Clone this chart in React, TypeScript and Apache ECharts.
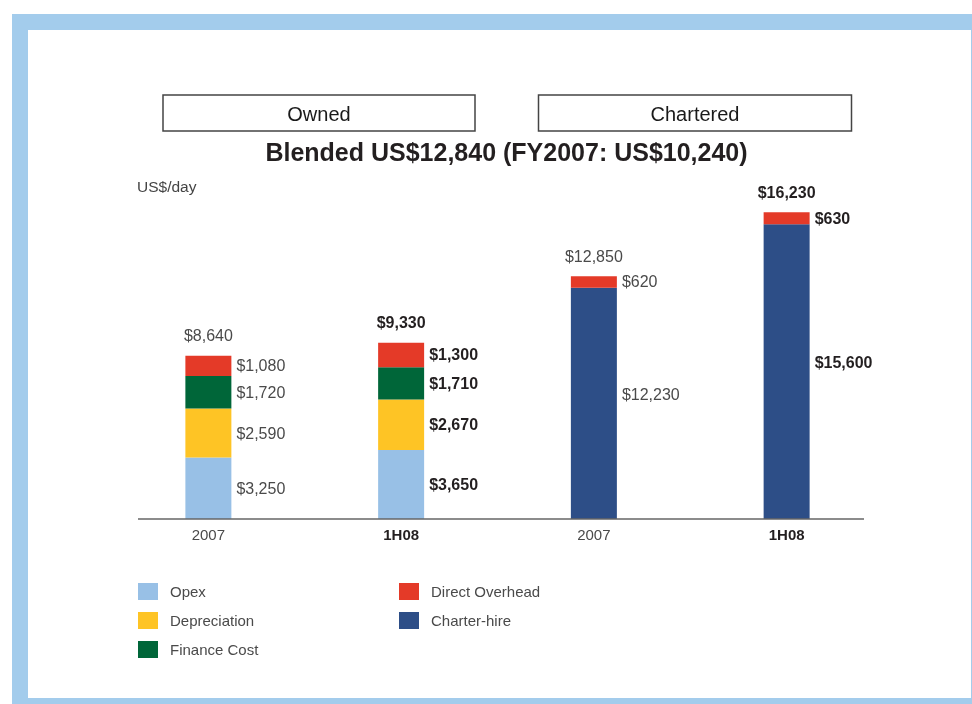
import React, { useEffect, useRef } from "react";
import * as echarts from "echarts";

const categories = ["2007", "1H08", "2007", "1H08"];
const boldCategory = [false, true, false, true];
const opex = [3250, 3650, null, null];
const depreciation = [2590, 2670, null, null];
const financeCost = [1720, 1710, null, null];
const charterHire = [null, null, 12230, 15600];
const directOverhead = [1080, 1300, 620, 630];
const groupTitles = ["Owned", "Chartered"];
const mainTitle = "Blended US$12,840 (FY2007: US$10,240)";
const unitLabel = "US$/day";

const COLORS = {
  opex: "#98C0E6",
  dep: "#FEC425",
  fin: "#006639",
  over: "#E43A28",
  charter: "#2D4E87",
};

const FONT = "Liberation Sans, Arial, Helvetica, sans-serif";
const NORMAL_COLOR = "#4a4a4a";
const BOLD_COLOR = "#231F20";
const fmt = (v: number) => "$" + v.toLocaleString("en-US");

function seriesData(vals: (number | null)[]) {
  return vals.map((v, i) =>
    v == null
      ? "-"
      : {
          value: v,
          label: {
            fontWeight: boldCategory[i] ? "bold" : "normal",
            color: boldCategory[i] ? BOLD_COLOR : NORMAL_COLOR,
          },
        }
  );
}

function barSeries(name: string, vals: (number | null)[], color: string, offset: number[] = [0, 0]) {
  return {
    name,
    type: "bar",
    stack: "all",
    barWidth: 46,
    itemStyle: { color },
    label: {
      show: true,
      position: "right",
      distance: 5,
      offset,
      fontFamily: FONT,
      fontSize: 16,
      formatter: (p: any) => fmt(p.value),
    },
    data: seriesData(vals),
  };
}

export default function App() {
  const ref = useRef<HTMLDivElement>(null);
  useEffect(() => {
    if (!ref.current) return;
    const chart = echarts.init(ref.current, undefined, { renderer: "svg" });
    const totals = categories.map(
      (_, i) =>
        [opex, depreciation, financeCost, charterHire, directOverhead].reduce(
          (s, arr) => s + (arr[i] ?? 0),
          0
        )
    );
    const boxText = (x: number, w: number, t: string) => [
      {
        type: "rect",
        shape: { x, y: 95, width: w, height: 36 },
        style: { fill: "#fff", stroke: "#444", lineWidth: 1.5 },
      },
      {
        type: "text",
        x: x + w / 2,
        y: 114,
        style: {
          text: t,
          fontFamily: FONT,
          fontSize: 20,
          fill: "#1a1a1a",
          textAlign: "center",
          textVerticalAlign: "middle",
        },
      },
    ];
    const legendBase = {
      orient: "vertical",
      top: 578,
      itemWidth: 20,
      itemHeight: 17,
      itemGap: 12,
      icon: "rect",
      selectedMode: false,
      textStyle: { fontFamily: FONT, fontSize: 15, color: NORMAL_COLOR, padding: [0, 0, 0, 7] },
    };
    chart.setOption({
      animation: false,
      grid: { left: 112, right: 89, top: 141, bottom: 704 - 519 },
      xAxis: {
        type: "category",
        data: categories,
        axisLine: { show: false },
        axisTick: { show: false },
        axisLabel: {
          margin: 8,
          formatter: (v: string, i: number) => (boldCategory[i] ? `{b|${v}}` : `{n|${v}}`),
          rich: {
            b: { fontFamily: FONT, fontSize: 15, fontWeight: "bold", color: BOLD_COLOR },
            n: { fontFamily: FONT, fontSize: 15, color: NORMAL_COLOR },
          },
        },
      },
      yAxis: { type: "value", min: 0, max: 20000, show: false, splitLine: { show: false } },
      legend: [
        { ...legendBase, data: ["Opex", "Depreciation", "Finance Cost"], left: 133 },
        { ...legendBase, data: ["Direct Overhead", "Charter-hire"], left: 394 },
      ],
      graphic: [
        { type: "rect", shape: { x: 12, y: 14, width: 960, height: 690 }, style: { fill: "#A3CCEC" } },
        { type: "rect", shape: { x: 28, y: 30, width: 943, height: 668 }, style: { fill: "#FFFFFF" } },
        ...boxText(163, 312, groupTitles[0]),
        ...boxText(538.5, 313, groupTitles[1]),
        {
          type: "text",
          x: 506.5,
          y: 152,
          style: {
            text: mainTitle,
            fontFamily: FONT,
            fontSize: 25,
            fontWeight: "bold",
            fill: BOLD_COLOR,
            textAlign: "center",
            textVerticalAlign: "middle",
          },
        },
        {
          type: "text",
          x: 137,
          y: 186,
          style: {
            text: unitLabel,
            fontFamily: FONT,
            fontSize: 15.5,
            fill: "#444",
            textAlign: "left",
            textVerticalAlign: "middle",
          },
        },
        {
          type: "line",
          shape: { x1: 138, y1: 519, x2: 864, y2: 519 },
          style: { stroke: "#666", lineWidth: 1.6 },
          z: 10,
        },
      ],
      series: [
        barSeries("Opex", opex, COLORS.opex),
        barSeries("Depreciation", depreciation, COLORS.dep),
        barSeries("Finance Cost", financeCost, COLORS.fin),
        barSeries("Charter-hire", charterHire, COLORS.charter, [0, -9]),
        barSeries("Direct Overhead", directOverhead, COLORS.over),
        {
          name: "Total",
          type: "scatter",
          symbolSize: 0,
          silent: true,
          itemStyle: { opacity: 1 },
          label: {
            show: true,
            position: "top",
            distance: 12,
            fontFamily: FONT,
            fontSize: 16,
            formatter: (p: any) => fmt(p.value),
          },
          data: totals.map((v, i) => ({
            value: v,
            label: {
              fontWeight: boldCategory[i] ? "bold" : "normal",
              color: boldCategory[i] ? BOLD_COLOR : NORMAL_COLOR,
            },
          })),
        },
      ],
    });
    return () => chart.dispose();
  }, []);
  return (
    <div
      ref={ref}
      style={{ position: "fixed", left: 0, top: 0, width: 972, height: 704 }}
    />
  );
}
